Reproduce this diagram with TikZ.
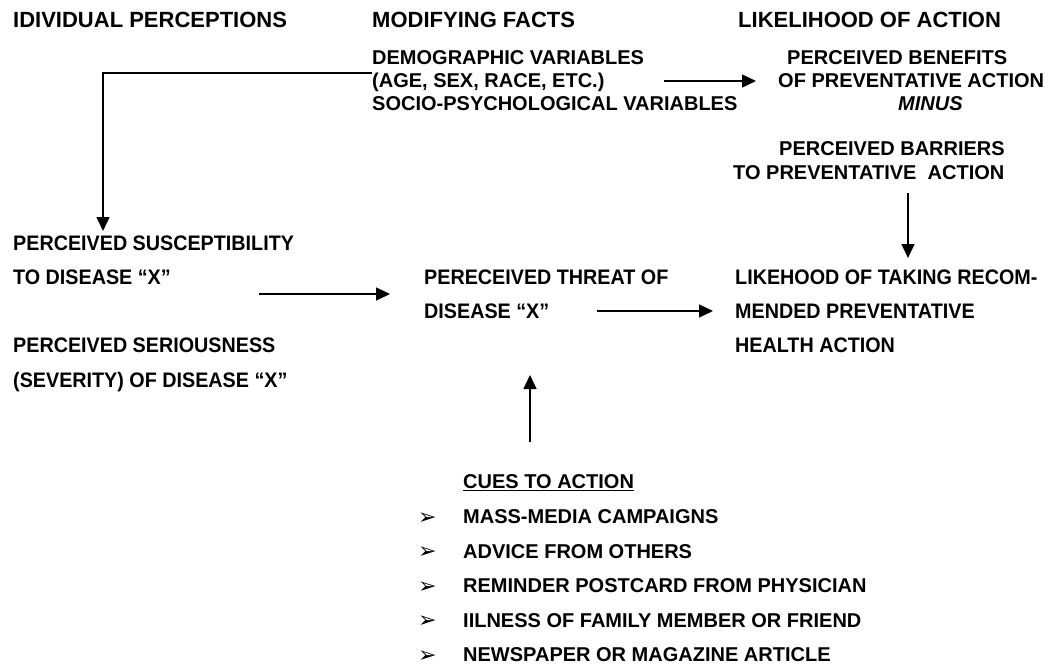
\documentclass[tikz,border=0pt]{standalone}
\usepackage{fontspec}
\setmainfont{Liberation Sans}
\newfontfamily\narrowfont[FakeStretch=0.94]{Liberation Sans}
\newfontfamily\dejavu{DejaVu Sans}
\usetikzlibrary{arrows.meta}
\tikzset{
  hdr/.style={anchor=base west, inner sep=0pt, font=\fontsize{22}{26}\selectfont\bfseries},
  txt/.style={anchor=base west, inner sep=0pt, font=\fontsize{20}{24}\selectfont\bfseries},
  ntxt/.style={anchor=base west, inner sep=0pt, font=\narrowfont\fontsize{21}{25}\selectfont\bfseries},
  bul/.style={anchor=base west, inner sep=0pt, text depth=0pt, font=\dejavu\fontsize{22}{24}\selectfont},
  arr/.style={line width=1.5pt, -{Triangle[length=14pt,width=13pt]}},
}
\begin{document}
\begin{tikzpicture}[x=1pt,y=-1pt]
\useasboundingbox (0,0) rectangle (1050,666);
% headers
\node[hdr] (h1) at (13,27.9) {IDIVIDUAL PERCEPTIONS};
\node[hdr] (h2) at (372,27.9) {MODIFYING FACTS};
\node[hdr] (h3) at (738,27.9) {LIKELIHOOD OF ACTION};
% modifying factors
\node[txt] (m1) at (372,64.2) {DEMOGRAPHIC VARIABLES};
\node[txt] (m2) at (372,87.2) {(AGE, SEX, RACE, ETC.)};
\node[txt] (m3) at (372,110.2) {SOCIO-PSYCHOLOGICAL VARIABLES};
% benefits / barriers
\node[txt] (b1) at (787,64.2) {PERCEIVED BENEFITS};
\node[txt] (b2) at (778,87.2) {OF PREVENTATIVE ACTION};
\node[txt] (b3) at (898,110.2) {\itshape MINUS};
\node[txt] (b4) at (779,155.2) {PERCEIVED BARRIERS};
\node[txt] (b5) at (733,179.2) {TO PREVENTATIVE\ \ ACTION};
% individual perceptions
\node[ntxt] (s1) at (13,250.5) {PERCEIVED SUSCEPTIBILITY};
\node[ntxt] (s2) at (13,284.5) {TO DISEASE “X”};
\node[ntxt] (s3) at (13,352.5) {PERCEIVED SERIOUSNESS};
\node[ntxt] (s4) at (13,387.5) {(SEVERITY) OF DISEASE “X”};
% threat
\node[ntxt] (t1) at (424,284.5) {PERECEIVED THREAT OF};
\node[ntxt] (t2) at (424,318.5) {DISEASE “X”};
% likelihood
\node[ntxt] (l1) at (735,284.5) {LIKEHOOD OF TAKING RECOM-};
\node[ntxt] (l2) at (735,318.5) {MENDED PREVENTATIVE};
\node[ntxt] (l3) at (735,352.5) {HEALTH ACTION};
% cues
\node[txt] (c0) at (463,488.5) {\underline{CUES TO ACTION}};
\node[txt] (c1) at (463,523.5) {MASS-MEDIA CAMPAIGNS};
\node[txt] (c2) at (463,558.0) {ADVICE FROM OTHERS};
\node[txt] (c3) at (463,592.5) {REMINDER POSTCARD FROM PHYSICIAN};
\node[txt] (c4) at (463,627.0) {IILNESS OF FAMILY MEMBER OR FRIEND};
\node[txt] (c5) at (463,661.5) {NEWSPAPER OR MAGAZINE ARTICLE};
\node[bul] (d1) at (418,524.0) {➢};
\node[bul] (d2) at (418,558.5) {➢};
\node[bul] (d3) at (418,593.0) {➢};
\node[bul] (d4) at (418,627.5) {➢};
\node[bul] (d5) at (418,662.0) {➢};
% connector end points
\coordinate (e1) at (372,73);
\coordinate (e2) at (103,231);
\coordinate (a1s) at (664,81);
\coordinate (a1e) at (756,81);
\coordinate (a2s) at (908,193);
\coordinate (a2e) at (908,258);
\coordinate (a3s) at (259,294);
\coordinate (a3e) at (390,294);
\coordinate (a4s) at (597,311);
\coordinate (a4e) at (713,311);
\coordinate (a5s) at (530,442);
\coordinate (a5e) at (530,375);
\draw[arr] (e1) -| (e2);
\draw[arr] (a1s) -- (a1e);
\draw[arr] (a2s) -- (a2e);
\draw[arr] (a3s) -- (a3e);
\draw[arr] (a4s) -- (a4e);
\draw[arr] (a5s) -- (a5e);
\end{tikzpicture}
\end{document}
